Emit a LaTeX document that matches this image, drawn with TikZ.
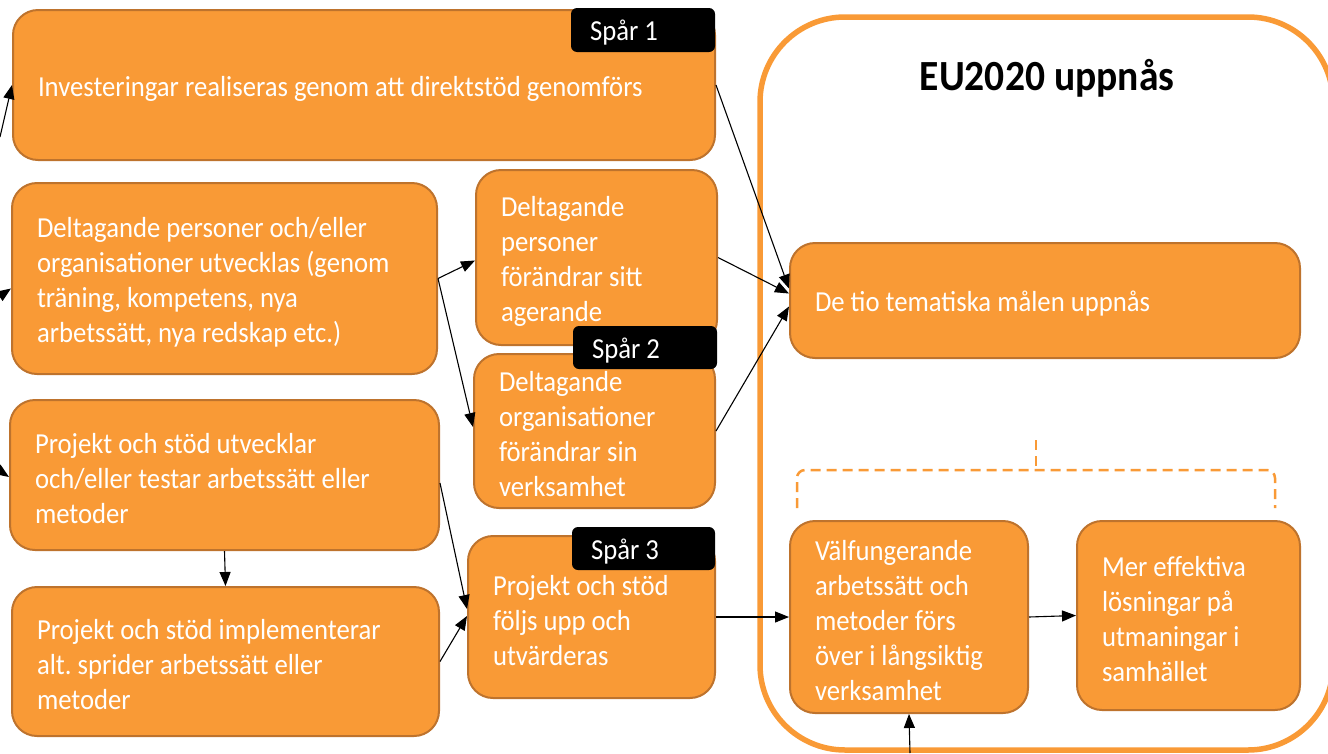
\documentclass[tikz,border=0pt]{standalone}
\usepackage{fontspec}
\setmainfont{Carlito}[FakeStretch=0.92]
\usetikzlibrary{arrows.meta,calc}
\definecolor{boxfill}{RGB}{249,154,54}
\definecolor{boxline}{RGB}{190,115,45}
\definecolor{ringcol}{RGB}{249,154,54}
\tikzset{
  obox/.style={draw=boxline, fill=boxfill, line width=2pt, rounded corners=25pt,
    text=white, align=left, inner xsep=25pt, inner ysep=0pt,
    font=\fontsize{29}{35}\selectfont,
    execute at begin node={\frenchspacing\spaceskip=0pt\xspaceskip=0pt\relax\rule{0pt}{27pt}}},
  tag/.style={fill=black, rounded corners=6pt, text=white, align=left,
    inner xsep=19pt, inner ysep=0pt, font=\fontsize{29}{35}\selectfont,
    execute at begin node={\spaceskip=0pt\relax\rule{0pt}{26pt}}},
  conn/.style={line width=1.1pt, -{Triangle[length=14pt,width=11pt]}}
}
\begin{document}
\begin{tikzpicture}[x=1pt,y=-1pt]
\useasboundingbox (0,0) rectangle (1328,753);
% big goal outline
\draw[line width=5.5pt, draw=ringcol, rounded corners=85pt] (760,17) rectangle (1333,750);
\node[font=\fontsize{43}{50}\selectfont\bfseries, text=black] (title) at (1047,78) {EU2020 uppnås};
% boxes
\node[obox, minimum width=702pt, minimum height=150pt, text width=652pt] (b1) at (364,85)
  {Investeringar realiseras genom att direktstöd genomförs};
\node[obox, minimum width=425pt, minimum height=191pt, text width=375pt] (b2) at (224.5,278.5)
  {Deltagande personer och/eller\\organisationer utvecklas (genom\\träning, kompetens, nya\\arbetssätt, nya redskap etc.)};
\node[obox, minimum width=429pt, minimum height=150pt, text width=379pt] (b3) at (224.5,475)
  {Projekt och stöd utvecklar\\och/eller testar arbetssätt eller\\metoder};
\node[obox, minimum width=427pt, minimum height=149pt, text width=377pt] (b4) at (225.5,661.5)
  {Projekt och stöd implementerar\\alt. sprider arbetssätt eller\\metoder};
\node[obox, minimum width=241pt, minimum height=175pt, text width=191pt] (b5) at (596.5,257.5)
  {Deltagande\\personer\\förändrar sitt\\agerande};
\node[obox, minimum width=241pt, minimum height=154pt, text width=191pt] (b6) at (594.5,431)
  {Deltagande\\organisationer\\förändrar sin\\verksamhet};
\node[obox, minimum width=247pt, minimum height=162pt, text width=197pt] (b7) at (591.5,617)
  {Projekt och stöd\\följs upp och\\utvärderas};
\node[obox, minimum width=510pt, minimum height=115pt, text width=460pt] (b9) at (1045,300.5)
  {De tio tematiska målen uppnås};
\node[obox, minimum width=238pt, minimum height=192pt, text width=188pt] (b11) at (909,617)
  {Välfungerande\\arbetssätt och\\metoder förs\\över i långsiktig\\verksamhet};
\node[obox, minimum width=223pt, minimum height=189pt, text width=173pt] (b12) at (1188.5,615.5)
  {Mer effektiva\\lösningar på\\utmaningar i\\samhället};
% tags
\node[tag, minimum height=44pt, text width=106pt] (s1) at (643,30) {Spår 1};
\node[tag, minimum height=43pt, text width=106pt] (s2) at (645,347.5) {Spår 2};
\node[tag, minimum height=43pt, text width=105pt] (s3) at (643.5,548.5) {Spår 3};
% dashed bracket
\draw[draw=ringcol, line width=2.5pt, dash pattern=on 10pt off 6pt, rounded corners=8pt]
  (797,508) -- (797,470) -- (1275,470) -- (1275,508);
\draw[draw=ringcol, line width=2.5pt, dash pattern=on 10pt off 6pt] (1036,440) -- (1036,466);
% free ends
\coordinate (in1) at (0,137);
\coordinate (in2) at (0,296);
\coordinate (in3) at (0,471);
\coordinate (in4) at (910,753);
% connectors
\draw[conn] (in1) -- (b1.west);
\draw[conn] (in2) -- ($(b2.west)+(0,10)$);
\draw[conn] (in3) -- ($(b3.west)+(0,2)$);
\draw[conn] (b2.east) -- ($(b5.west)+(0,3)$);
\draw[conn] (b2.east) -- ($(b6.west)+(0,-4)$);
\draw[conn] (b1.east) -- ($(b9.west)+(0,-12)$);
\draw[conn] (b5.east) -- ($(b9.west)+(0,-7)$);
\draw[conn] (b6.east) -- ($(b9.west)+(0,6)$);
\draw[conn] (b3.south) -- (b4.north);
\draw[conn] ($(b3.east)+(0,8)$) -- ($(b7.west)+(0,-8)$);
\draw[conn] (b4.east) -- ($(b7.west)+(0,-1)$);
\draw[conn] (b7.east) -- (b11.west);
\draw[conn] (b11.east) -- (b12.west);
\draw[conn] (in4) -- (b11.south);
\end{tikzpicture}
\end{document}
